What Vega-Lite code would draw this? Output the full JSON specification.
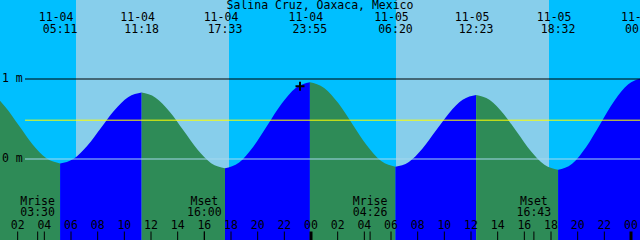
{
  "$schema": "https://vega.github.io/schema/vega-lite/v6.json",
  "width": 640,
  "height": 240,
  "autosize": {"type": "none"},
  "padding": 0,
  "background": "#00BFFF",
  "config": {"view": {"stroke": null}},
  "datasets": {
    "sky": [
      {"from": -2, "to": 6.375, "period": "night"},
      {"from": 6.375, "to": 17.85, "period": "day"},
      {"from": 17.85, "to": 30.375, "period": "night"},
      {"from": 30.375, "to": 41.85, "period": "day"},
      {"from": 41.85, "to": 50, "period": "night"}
    ],
    "tide": [
      {"t": -1.0, "h": 0.89, "s": "f0", "d": "fall"},
      {"t": 0.031, "h": 0.827, "s": "f0", "d": "fall"},
      {"t": 1.061, "h": 0.654, "s": "f0", "d": "fall"},
      {"t": 2.092, "h": 0.418, "s": "f0", "d": "fall"},
      {"t": 3.122, "h": 0.181, "s": "f0", "d": "fall"},
      {"t": 4.153, "h": 0.008, "s": "f0", "d": "fall"},
      {"t": 5.183, "h": -0.055, "s": "f0", "d": "fall"},
      {"t": 5.183, "h": -0.055, "s": "r1", "d": "rise"},
      {"t": 6.203, "h": 0.004, "s": "r1", "d": "rise"},
      {"t": 7.222, "h": 0.166, "s": "r1", "d": "rise"},
      {"t": 8.242, "h": 0.388, "s": "r1", "d": "rise"},
      {"t": 9.261, "h": 0.609, "s": "r1", "d": "rise"},
      {"t": 10.281, "h": 0.771, "s": "r1", "d": "rise"},
      {"t": 11.3, "h": 0.83, "s": "r1", "d": "rise"},
      {"t": 11.3, "h": 0.83, "s": "f1", "d": "fall"},
      {"t": 12.342, "h": 0.767, "s": "f1", "d": "fall"},
      {"t": 13.383, "h": 0.594, "s": "f1", "d": "fall"},
      {"t": 14.425, "h": 0.358, "s": "f1", "d": "fall"},
      {"t": 15.467, "h": 0.121, "s": "f1", "d": "fall"},
      {"t": 16.508, "h": -0.052, "s": "f1", "d": "fall"},
      {"t": 17.55, "h": -0.115, "s": "f1", "d": "fall"},
      {"t": 17.55, "h": -0.115, "s": "r2", "d": "rise"},
      {"t": 18.611, "h": -0.043, "s": "r2", "d": "rise"},
      {"t": 19.672, "h": 0.154, "s": "r2", "d": "rise"},
      {"t": 20.733, "h": 0.423, "s": "r2", "d": "rise"},
      {"t": 21.794, "h": 0.691, "s": "r2", "d": "rise"},
      {"t": 22.856, "h": 0.888, "s": "r2", "d": "rise"},
      {"t": 23.917, "h": 0.96, "s": "r2", "d": "rise"},
      {"t": 23.917, "h": 0.96, "s": "f2", "d": "fall"},
      {"t": 24.986, "h": 0.889, "s": "f2", "d": "fall"},
      {"t": 26.056, "h": 0.696, "s": "f2", "d": "fall"},
      {"t": 27.125, "h": 0.432, "s": "f2", "d": "fall"},
      {"t": 28.194, "h": 0.168, "s": "f2", "d": "fall"},
      {"t": 29.264, "h": -0.025, "s": "f2", "d": "fall"},
      {"t": 30.333, "h": -0.096, "s": "f2", "d": "fall"},
      {"t": 30.333, "h": -0.096, "s": "r3", "d": "rise"},
      {"t": 31.342, "h": -0.036, "s": "r3", "d": "rise"},
      {"t": 32.35, "h": 0.128, "s": "r3", "d": "rise"},
      {"t": 33.358, "h": 0.352, "s": "r3", "d": "rise"},
      {"t": 34.367, "h": 0.576, "s": "r3", "d": "rise"},
      {"t": 35.375, "h": 0.74, "s": "r3", "d": "rise"},
      {"t": 36.383, "h": 0.8, "s": "r3", "d": "rise"},
      {"t": 36.383, "h": 0.8, "s": "f3", "d": "fall"},
      {"t": 37.408, "h": 0.737, "s": "f3", "d": "fall"},
      {"t": 38.433, "h": 0.566, "s": "f3", "d": "fall"},
      {"t": 39.458, "h": 0.333, "s": "f3", "d": "fall"},
      {"t": 40.483, "h": 0.099, "s": "f3", "d": "fall"},
      {"t": 41.508, "h": -0.072, "s": "f3", "d": "fall"},
      {"t": 42.533, "h": -0.135, "s": "f3", "d": "fall"},
      {"t": 42.533, "h": -0.135, "s": "r4", "d": "rise"},
      {"t": 43.586, "h": -0.058, "s": "r4", "d": "rise"},
      {"t": 44.639, "h": 0.151, "s": "r4", "d": "rise"},
      {"t": 45.692, "h": 0.438, "s": "r4", "d": "rise"},
      {"t": 46.744, "h": 0.724, "s": "r4", "d": "rise"},
      {"t": 47.797, "h": 0.933, "s": "r4", "d": "rise"},
      {"t": 48.85, "h": 1.01, "s": "r4", "d": "rise"}
    ],
    "levels": [
      {"lvl": "one", "h": 1},
      {"lvl": "zero", "h": 0},
      {"lvl": "msl", "h": 0.485}
    ],
    "ylabels": [
      {"lab": "1 m", "h": 1},
      {"lab": "0 m", "h": 0}
    ],
    "events": [
      {"t": 5.183, "date": "11-04", "time": "05:11"},
      {"t": 11.3, "date": "11-04", "time": "11:18"},
      {"t": 17.55, "date": "11-04", "time": "17:33"},
      {"t": 23.917, "date": "11-04", "time": "23:55"},
      {"t": 30.333, "date": "11-05", "time": "06:20"},
      {"t": 36.383, "date": "11-05", "time": "12:23"},
      {"t": 42.533, "date": "11-05", "time": "18:32"},
      {"t": 48.85, "date": "11-06", "time": "00:51"}
    ],
    "moon": [
      {"t": 3.5, "ev": "Mrise", "time": "03:30"},
      {"t": 16.0, "ev": "Mset", "time": "16:00"},
      {"t": 28.433, "ev": "Mrise", "time": "04:26"},
      {"t": 40.717, "ev": "Mset", "time": "16:43"}
    ],
    "hours": [
      {"t": 2, "lab": "02", "kind": "hour"},
      {"t": 4, "lab": "04", "kind": "hour"},
      {"t": 6, "lab": "06", "kind": "hour"},
      {"t": 8, "lab": "08", "kind": "hour"},
      {"t": 10, "lab": "10", "kind": "hour"},
      {"t": 12, "lab": "12", "kind": "hour"},
      {"t": 14, "lab": "14", "kind": "hour"},
      {"t": 16, "lab": "16", "kind": "hour"},
      {"t": 18, "lab": "18", "kind": "hour"},
      {"t": 20, "lab": "20", "kind": "hour"},
      {"t": 22, "lab": "22", "kind": "hour"},
      {"t": 24, "lab": "00", "kind": "midnight"},
      {"t": 26, "lab": "02", "kind": "hour"},
      {"t": 28, "lab": "04", "kind": "hour"},
      {"t": 30, "lab": "06", "kind": "hour"},
      {"t": 32, "lab": "08", "kind": "hour"},
      {"t": 34, "lab": "10", "kind": "hour"},
      {"t": 36, "lab": "12", "kind": "hour"},
      {"t": 38, "lab": "14", "kind": "hour"},
      {"t": 40, "lab": "16", "kind": "hour"},
      {"t": 42, "lab": "18", "kind": "hour"},
      {"t": 44, "lab": "20", "kind": "hour"},
      {"t": 46, "lab": "22", "kind": "hour"},
      {"t": 48, "lab": "00", "kind": "midnight"}
    ],
    "now": [{"t": 23.175, "h": 0.91}]
  },
  "resolve": {"scale": {"color": "independent"}},
  "layer": [
    {
      "data": {"name": "sky"},
      "mark": {"type": "rect", "clip": true},
      "encoding": {
        "x": {"field": "from", "type": "quantitative", "scale": {"domain": [0.675, 48.675], "nice": false, "zero": false}, "axis": null},
        "x2": {"field": "to"},
        "color": {"field": "period", "type": "nominal", "scale": {"domain": ["night", "day"], "range": ["#00BFFF", "#87CEEB"]}, "legend": null}
      }
    },
    {
      "data": {"name": "tide"},
      "mark": {"type": "area", "interpolate": "monotone", "clip": true},
      "encoding": {
        "x": {"field": "t", "type": "quantitative", "scale": {"domain": [0.675, 48.675], "nice": false, "zero": false}, "axis": null},
        "y": {"field": "h", "type": "quantitative", "stack": null, "scale": {"domain": [-1.0125, 1.9875], "nice": false, "zero": false}, "axis": null},
        "y2": {"datum": -1.0125},
        "detail": {"field": "s", "type": "nominal"},
        "color": {"field": "d", "type": "nominal", "scale": {"domain": ["rise", "fall"], "range": ["#0000FF", "#2E8B57"]}, "legend": null}
      }
    },
    {
      "data": {"name": "levels"},
      "mark": {"type": "rule", "strokeWidth": 1},
      "encoding": {
        "x": {"datum": 2.55, "type": "quantitative", "scale": {"domain": [0.675, 48.675], "nice": false, "zero": false}},
        "x2": {"datum": 48.675},
        "y": {"field": "h", "type": "quantitative", "scale": {"domain": [-1.0125, 1.9875], "nice": false, "zero": false}},
        "color": {"field": "lvl", "type": "nominal", "scale": {"domain": ["one", "zero", "msl"], "range": ["#000000", "#A4D8EE", "#FFFF00"]}, "legend": null}
      }
    },
    {
      "data": {"name": "ylabels"},
      "mark": {"type": "text", "font": "DejaVu Sans Mono", "fontSize": 11.5, "color": "#000000", "align": "left", "baseline": "middle", "dx": 2},
      "encoding": {
        "x": {"datum": 0.675, "type": "quantitative"},
        "y": {"field": "h", "type": "quantitative"},
        "text": {"field": "lab"}
      }
    },
    {
      "data": {"name": "now"},
      "mark": {"type": "point", "shape": "M -1 0 L 1 0 M 0 -1 L 0 1", "filled": false, "stroke": "#000000", "strokeWidth": 2, "size": 81, "opacity": 1},
      "encoding": {
        "x": {"field": "t", "type": "quantitative"},
        "y": {"field": "h", "type": "quantitative"}
      }
    },
    {
      "data": {"values": [{"lab": "Salina Cruz, Oaxaca, Mexico"}]},
      "mark": {"type": "text", "font": "DejaVu Sans Mono", "fontSize": 11.5, "color": "#000000", "align": "center", "baseline": "middle"},
      "encoding": {
        "x": {"datum": 24.675, "type": "quantitative"},
        "y": {"datum": 1.9125, "type": "quantitative"},
        "text": {"field": "lab"}
      }
    },
    {
      "data": {"name": "events"},
      "mark": {"type": "text", "font": "DejaVu Sans Mono", "fontSize": 11.5, "color": "#000000", "align": "center", "baseline": "middle", "dx": -4},
      "encoding": {
        "x": {"field": "t", "type": "quantitative"},
        "y": {"datum": 1.76875, "type": "quantitative"},
        "text": {"field": "date"}
      }
    },
    {
      "data": {"name": "events"},
      "mark": {"type": "text", "font": "DejaVu Sans Mono", "fontSize": 11.5, "color": "#000000", "align": "center", "baseline": "middle"},
      "encoding": {
        "x": {"field": "t", "type": "quantitative"},
        "y": {"datum": 1.61875, "type": "quantitative"},
        "text": {"field": "time"}
      }
    },
    {
      "data": {"name": "moon"},
      "mark": {"type": "text", "font": "DejaVu Sans Mono", "fontSize": 11.5, "color": "#000000", "align": "center", "baseline": "middle"},
      "encoding": {
        "x": {"field": "t", "type": "quantitative"},
        "y": {"datum": -0.53125, "type": "quantitative"},
        "text": {"field": "ev"}
      }
    },
    {
      "data": {"name": "moon"},
      "mark": {"type": "text", "font": "DejaVu Sans Mono", "fontSize": 11.5, "color": "#000000", "align": "center", "baseline": "middle"},
      "encoding": {
        "x": {"field": "t", "type": "quantitative"},
        "y": {"datum": -0.66875, "type": "quantitative"},
        "text": {"field": "time"}
      }
    },
    {
      "data": {"name": "hours"},
      "mark": {"type": "text", "font": "DejaVu Sans Mono", "fontSize": 11.5, "color": "#000000", "align": "center", "baseline": "middle"},
      "encoding": {
        "x": {"field": "t", "type": "quantitative"},
        "y": {"datum": -0.8375, "type": "quantitative"},
        "text": {"field": "lab"}
      }
    },
    {
      "data": {"name": "hours"},
      "transform": [{"filter": "datum.kind == 'hour'"}],
      "mark": {"type": "rule", "color": "#000000", "strokeWidth": 1},
      "encoding": {
        "x": {"field": "t", "type": "quantitative"},
        "y": {"datum": -0.90625, "type": "quantitative"},
        "y2": {"datum": -1.0125}
      }
    },
    {
      "data": {"name": "hours"},
      "transform": [{"filter": "datum.kind == 'midnight'"}],
      "mark": {"type": "rule", "color": "#000000", "strokeWidth": 3},
      "encoding": {
        "x": {"field": "t", "type": "quantitative"},
        "y": {"datum": -0.90625, "type": "quantitative"},
        "y2": {"datum": -1.0125}
      }
    },
    {
      "data": {"name": "moon"},
      "mark": {"type": "rule", "color": "#000000", "strokeWidth": 1},
      "encoding": {
        "x": {"field": "t", "type": "quantitative"},
        "y": {"datum": -0.90625, "type": "quantitative"},
        "y2": {"datum": -1.0125}
      }
    }
  ]
}
